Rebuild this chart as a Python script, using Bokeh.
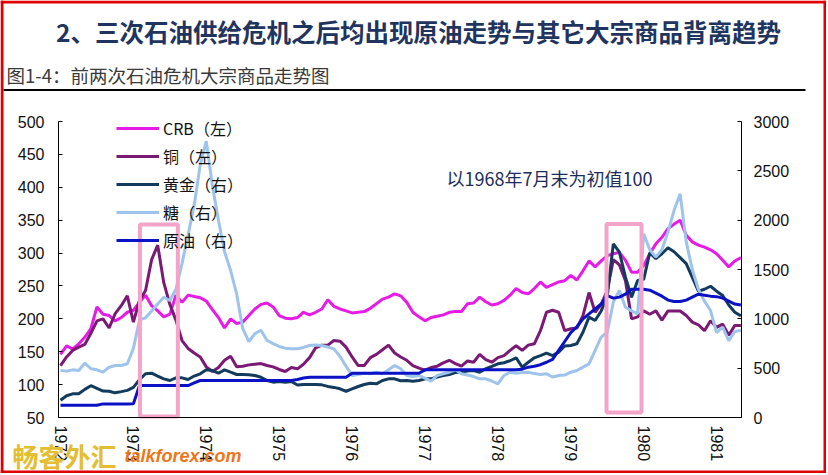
import numpy as np
from bokeh.plotting import figure
from bokeh.models import (Range1d, LinearAxis, FixedTicker, Label, Legend,
                          LegendItem, BoxAnnotation)
from bokeh.embed import file_html
from bokeh.resources import INLINE

# ---------------- data (monthly, Jan 1972 - May 1981; 1968-07 = 100) -------------
start_year = 1972
n_months = 113
months = start_year + np.arange(n_months) / 12.0

crb = [146, 159, 154, 162, 172, 185, 218, 207, 205, 197, 202, 210,
       213, 225, 236, 220, 212, 203, 207, 236, 225, 236, 234, 232,
       227, 214, 202, 186, 200, 193, 195, 205, 215, 222, 224, 218,
       205, 201, 200, 202, 210, 206, 210, 215, 229, 219, 215, 212,
       209, 210, 211, 216, 223, 230, 233, 238, 235, 225, 210, 203,
       197, 202, 204, 206, 210, 211, 211, 223, 224, 233, 226, 221,
       223, 228, 236, 246, 240, 238, 246, 256, 248, 252, 256, 258,
       266, 259, 273, 288, 279, 288, 296, 299, 301, 289, 271, 271,
       281, 299, 314, 324, 337, 344, 350, 327, 317, 312, 309, 305,
       299, 289, 279, 288, 293]

copper = [129, 142, 152, 157, 161, 178, 197, 200, 186, 208, 220, 235,
          195, 228, 243, 290, 312, 255, 222, 198, 167, 155, 148, 142,
          127, 120, 126, 137, 143, 127, 128, 130, 131, 132, 129, 127,
          123, 120, 126, 124, 131, 141, 156, 160, 160, 167, 166, 157,
          142, 129, 129, 141, 146, 153, 160, 148, 142, 137, 129, 125,
          122, 126, 128, 133, 137, 132, 128, 136, 134, 146, 138, 134,
          141, 144, 152, 159, 152, 160, 162, 182, 210, 213, 210, 182,
          185, 186, 205, 240, 210, 222, 243, 290, 282, 258, 200, 203,
          212, 207, 212, 198, 212, 212, 212, 205, 195, 191, 182, 197,
          187, 192, 175, 190, 190]

gold = [175, 220, 240, 240, 285, 322, 295, 268, 266, 250, 262, 275,
        305, 382, 443, 449, 420, 392, 375, 402, 402, 385, 420, 443,
        483, 476, 449, 483, 459, 436, 436, 433, 426, 408, 375, 358,
        365, 358, 365, 330, 334, 334, 334, 331, 315, 305, 291, 266,
        291, 314, 334, 348, 341, 375, 392, 392, 372, 375, 368, 375,
        392, 392, 410, 426, 436, 455, 462, 472, 476, 459, 494, 517,
        544, 555, 575, 605, 510, 560, 605, 628, 652, 628, 662, 725,
        730, 747, 864, 1017, 983, 1080, 1230, 1760, 1675, 1422, 1219, 1388,
        1400, 1670, 1610, 1660, 1720, 1680, 1620, 1560, 1420, 1280, 1300, 1330,
        1280, 1236, 1140, 1067, 1030]

sugar = [476, 470, 483, 476, 551, 494, 483, 459, 510, 527, 527, 545,
         700, 990, 1010, 1080, 1150, 1219, 1186, 1300, 1560, 1850, 2150, 2560,
         2800, 2350, 2000, 1680, 1490, 1250, 900, 770, 850, 885, 780, 748,
         720, 703, 698, 696, 710, 730, 735, 730, 715, 696, 620, 520,
         426, 436, 449, 443, 459, 443, 483, 527, 494, 426, 415, 426,
         400, 368, 426, 443, 459, 483, 443, 430, 415, 392, 392, 370,
         341, 426, 459, 449, 455, 459, 445, 436, 443, 410, 426, 430,
         459, 476, 510, 544, 680, 814, 865, 1169, 1287, 1118, 1080, 1051,
         1862, 1700, 1625, 1700, 1880, 2100, 2267, 1780, 1500, 1300, 1180, 1084,
         860, 915, 780, 870, 885]

crude = [125, 125, 125, 125, 125, 125, 125, 138, 138, 138, 138, 138,
         140, 324, 324, 324, 324, 324, 324, 324, 324, 324, 350, 375,
         375, 375, 375, 375, 375, 375, 375, 375, 375, 375, 375, 375,
         375, 375, 375, 385, 400, 408, 408, 408, 408, 408, 408, 408,
         449, 449, 449, 449, 449, 449, 449, 449, 449, 449, 449, 449,
         483, 483, 483, 483, 483, 483, 483, 483, 483, 483, 483, 483,
         483, 483, 483, 483, 490, 510, 520, 535, 560, 590, 680, 770,
         860, 920, 1000, 1050, 1100, 1150, 1236, 1210, 1220, 1250, 1300, 1300,
         1300, 1290, 1260, 1230, 1190, 1175, 1175, 1190, 1220, 1250, 1240, 1230,
         1225, 1210, 1180, 1150, 1140]

year_ticks = list(range(1972, 1982))
left_ticks = list(range(50, 501, 50))
right_ticks = list(range(0, 3001, 500))
left_lim = (50, 500)
right_lim = (0, 3000)

series_labels = ["CRB（左）", "铜（左）", "黄金（右）", "糖（右）", "原油（右）"]

# highlighted oil-crisis windows (years, left-axis units)
hl_start = [1973.09, 1979.49]
hl_end = [1973.61, 1979.97]
hl_bottom = [51.5, 57.5]
hl_top = [343.5, 344.0]

title_text = "2、三次石油供给危机之后均出现原油走势与其它大宗商品背离趋势"
subtitle_text = "图1-4：前两次石油危机大宗商品走势图"
note_text = "以1968年7月末为初值100"
mark_cn = "畅客外汇"
mark_en = "talkforex.com"

# ---------------- layout (pixels) ----------------------------------------------
W, H = 826, 473
FRAME_L, FRAME_R, FRAME_T, FRAME_B = 58, 741, 121, 417
X0_PX, PX_PER_YEAR = 60.0, 72.9

ppu_l = (FRAME_B - FRAME_T) / (left_lim[1] - left_lim[0])
ppu_r = (FRAME_B - FRAME_T) / (right_lim[1] - right_lim[0])
x_start = start_year - X0_PX / PX_PER_YEAR
x_end = start_year + (W - X0_PX) / PX_PER_YEAR
x_axis_l = start_year + (FRAME_L - X0_PX) / PX_PER_YEAR
x_axis_r = start_year + (FRAME_R - X0_PX) / PX_PER_YEAR

p = figure(width=W, height=H, output_backend="svg", toolbar_location=None,
           title=None, x_axis_location=None, y_axis_location=None,
           x_range=Range1d(x_start, x_end),
           y_range=Range1d(left_lim[0] - (H - FRAME_B) / ppu_l,
                           left_lim[1] + FRAME_T / ppu_l),
           min_border=0)
p.extra_y_ranges = {"right": Range1d(right_lim[0] - (H - FRAME_B) / ppu_r,
                                     right_lim[1] + FRAME_T / ppu_r)}
p.outline_line_color = None
p.grid.visible = False
p.background_fill_color = "white"
p.border_fill_color = "white"

axis_font = "Liberation Sans"


def style_axis(ax, standoff, tick_in):
    ax.major_tick_in = tick_in
    ax.major_tick_out = 0
    ax.minor_tick_line_color = None
    ax.major_label_standoff = standoff
    ax.axis_line_color = "black"
    ax.axis_line_width = 1
    ax.major_tick_line_color = "black"
    ax.major_label_text_font = axis_font
    ax.major_label_text_font_size = "16px"
    ax.major_label_text_color = "#111111"


xa = LinearAxis(ticker=FixedTicker(ticks=year_ticks), fixed_location=left_lim[0],
                bounds=(x_axis_l, x_axis_r))
style_axis(xa, 8, 0)
xa.major_label_orientation = "vertical"
p.add_layout(xa, "below")

ya = LinearAxis(ticker=FixedTicker(ticks=left_ticks), fixed_location=x_axis_l,
                bounds=left_lim)
style_axis(ya, 14, 4)
p.add_layout(ya, "left")

ra = LinearAxis(y_range_name="right", ticker=FixedTicker(ticks=right_ticks),
                fixed_location=x_axis_r, bounds=right_lim)
style_axis(ra, 12, 4)
p.add_layout(ra, "right")

r_crb = p.line(months, crb, line_color="#E61CE6", line_width=3)
r_cu = p.line(months, copper, line_color="#7A1A74", line_width=3)
r_gold = p.line(months, gold, y_range_name="right", line_color="#123B5E", line_width=3)
r_sugar = p.line(months, sugar, y_range_name="right", line_color="#9EC4EC", line_width=3)
r_oil = p.line(months, crude, y_range_name="right", line_color="#0B12C6", line_width=3)

p.quad(left=hl_start, right=hl_end, bottom=hl_bottom, top=hl_top,
       fill_color=None, line_color="#F4A3C9", line_width=4)

legend = Legend(
    items=[LegendItem(label=lab, renderers=[r]) for lab, r in
           zip(series_labels, [r_crb, r_cu, r_gold, r_sugar, r_oil])],
    location=(116, H - 252), orientation="vertical",
    glyph_width=43, glyph_height=22, label_height=22, spacing=4,
    padding=0, margin=0, label_standoff=4,
    background_fill_alpha=0, border_line_color=None,
    label_text_font="Noto Sans CJK SC", label_text_font_size="16px",
    label_text_color="#111111")
p.add_layout(legend)

p.add_layout(Label(x=418, y=31, x_units="canvas", y_units="canvas",
                   text=title_text, text_align="center", text_baseline="middle",
                   text_font="Noto Sans CJK SC", text_font_style="bold",
                   text_font_size="24.5px", text_color="#1F3560"))
p.add_layout(Label(x=6, y=74, x_units="canvas", y_units="canvas",
                   text=subtitle_text, text_align="left", text_baseline="middle",
                   text_font="Noto Sans CJK SC", text_font_size="18.5px",
                   text_color="#3A3A3A"))
p.add_layout(BoxAnnotation(left=3, right=805, top=88.5, bottom=90.5,
                           left_units="canvas", right_units="canvas",
                           top_units="canvas", bottom_units="canvas",
                           fill_color="black", fill_alpha=1, line_color=None))
p.add_layout(Label(x=549, y=177, x_units="canvas", y_units="canvas",
                   text=note_text, text_align="center", text_baseline="middle",
                   text_font="Noto Sans CJK SC", text_font_size="18px",
                   text_color="#1C2C5C"))
p.add_layout(Label(x=12, y=455, x_units="canvas", y_units="canvas",
                   text=mark_cn, text_align="left", text_baseline="middle",
                   text_font="Noto Sans CJK SC", text_font_style="bold",
                   text_font_size="26px", text_color="#E3BE32"))
p.add_layout(Label(x=124, y=455, x_units="canvas", y_units="canvas",
                   text=mark_en, text_align="left", text_baseline="middle",
                   text_font="Liberation Sans", text_font_style="bold italic",
                   text_font_size="18px", text_color="#EE7518"))

# red frame around the picture
for l, r, t, b in [(0, 3, 0, H), (W - 3, W, 0, H), (0, W, 0, 3), (0, W, H - 3, H)]:
    p.add_layout(BoxAnnotation(left=l, right=r, top=t, bottom=b,
                               left_units="canvas", right_units="canvas",
                               top_units="canvas", bottom_units="canvas",
                               fill_color="#E00000", fill_alpha=1, line_color=None))

open("out.html", "w").write(file_html(p, INLINE))
